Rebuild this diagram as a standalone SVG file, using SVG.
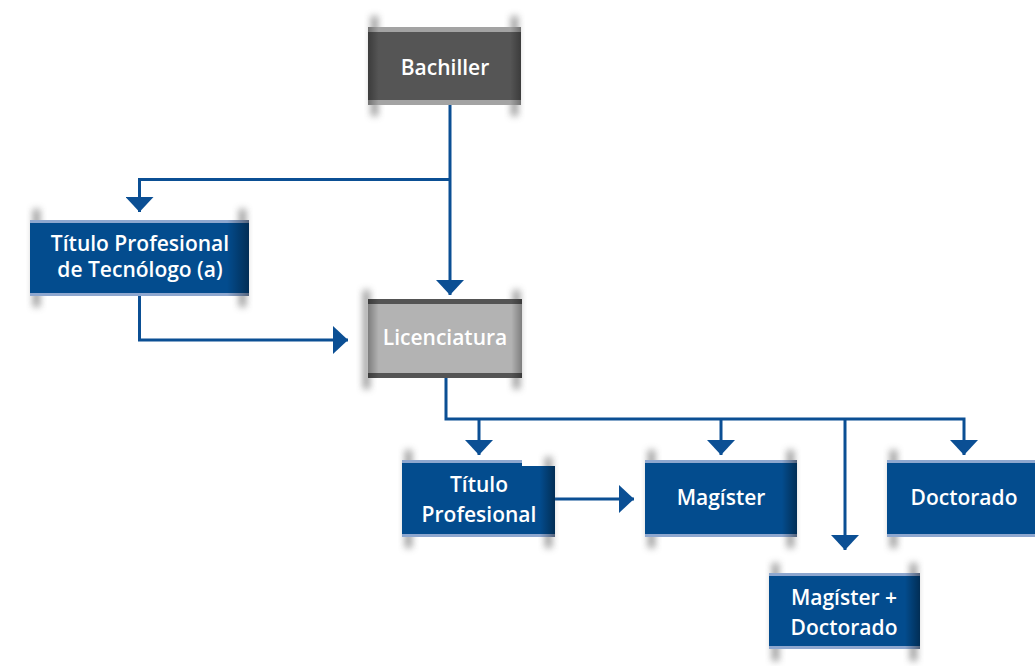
<svg xmlns="http://www.w3.org/2000/svg" width="1035" height="666" viewBox="0 0 1035 666">
<style>
text{font-family:"Open Sans","Noto Sans","DejaVu Sans",sans-serif;font-weight:600;font-size:21px;fill:#ffffff;text-anchor:middle}
.blue{fill:#034c8e}
.bband{fill:#8ea7cf}
.gdark{fill:#555555}
.gband{fill:#a3a3a3}
.glight{fill:#b3b3b3}
.gdband{fill:#545454}
.sh{fill:#7a7a7a;opacity:0.75;filter:url(#blur)}
.edge{fill:url(#edgeR)}
.edge2{fill:url(#edgeLR)}
.conn{fill:none;stroke:#0b4f94;stroke-width:3}
</style>
<defs>
<filter id="blur" x="-100%" y="-20%" width="300%" height="140%"><feGaussianBlur stdDeviation="3.5"/></filter>
<linearGradient id="edgeR" x1="0" y1="0" x2="1" y2="0">
<stop offset="0.9" stop-color="#000" stop-opacity="0"/>
<stop offset="1" stop-color="#000" stop-opacity="0.4"/>
</linearGradient>
<linearGradient id="edgeLR" x1="0" y1="0" x2="1" y2="0">
<stop offset="0" stop-color="#000" stop-opacity="0.3"/>
<stop offset="0.07" stop-color="#000" stop-opacity="0"/>
<stop offset="0.93" stop-color="#000" stop-opacity="0"/>
<stop offset="1" stop-color="#000" stop-opacity="0.3"/>
</linearGradient>
<marker id="arr" markerUnits="userSpaceOnUse" markerWidth="15" markerHeight="28" refX="15" refY="14" orient="auto" viewBox="0 0 15 28">
<path d="M0,0 L15,14 L0,28 z" fill="#0b4f94"/>
</marker>
</defs>

<g id="connectors">
<path class="conn" d="M450,105 V295" marker-end="url(#arr)"/>
<path class="conn" d="M450,179.5 H139.5 V212" marker-end="url(#arr)"/>
<path class="conn" d="M139.5,296 V340 H348" marker-end="url(#arr)"/>
<path class="conn" d="M446,378 V419 H964 V455" marker-end="url(#arr)"/>
<path class="conn" d="M479,419 V455" marker-end="url(#arr)"/>
<path class="conn" d="M721,419 V455" marker-end="url(#arr)"/>
<path class="conn" d="M845,419 V550" marker-end="url(#arr)"/>
<path class="conn" d="M555,499 H634" marker-end="url(#arr)"/>
</g>

<g id="bachiller">
<rect class="sh" x="371" y="16" width="7" height="100"/>
<rect class="sh" x="511" y="16" width="7" height="100"/>
<rect class="gdark" x="368" y="27" width="153" height="78"/>
<rect class="gband" x="368" y="27" width="153" height="5"/>
<rect class="gband" x="368" y="100" width="153" height="5"/>
<rect class="edge2" x="368" y="27" width="153" height="78"/>
<text x="445" y="75">Bachiller</text>
</g>

<g id="tecnologo">
<rect class="sh" x="33" y="209" width="7" height="98"/>
<rect class="sh" x="239" y="209" width="7" height="98"/>
<rect class="blue" x="30" y="220" width="219" height="76"/>
<rect class="bband" x="30" y="220" width="219" height="3"/>
<rect class="bband" x="30" y="293" width="219" height="3"/>
<rect class="edge" x="30" y="220" width="219" height="76"/>
<text x="140" y="251">Título Profesional</text>
<text x="140" y="277">de Tecnólogo (a)</text>
</g>

<g id="licenciatura">
<rect class="sh" x="363" y="290" width="7" height="99"/>
<rect class="sh" x="513" y="290" width="7" height="99"/>
<rect class="glight" x="368" y="299" width="154" height="79"/>
<rect class="gdband" x="368" y="299" width="154" height="5"/>
<rect class="gdband" x="368" y="373" width="154" height="5"/>
<rect class="edge2" x="368" y="299" width="154" height="79"/>
<text x="445" y="345">Licenciatura</text>
</g>

<g id="titulo-profesional">
<rect class="sh" x="405" y="450" width="7" height="98"/>
<rect class="sh" x="545" y="457" width="7" height="91"/>
<path class="blue" d="M402,460 H522 V466 H555 V537 H402 Z"/>
<rect class="bband" x="402" y="460" width="120" height="3"/>
<rect class="bband" x="402" y="534" width="153" height="3"/>
<rect class="edge" x="402" y="466" width="153" height="71"/>
<text x="479" y="492">Título</text>
<text x="479" y="522">Profesional</text>
</g>

<g id="magister">
<rect class="sh" x="648" y="450" width="7" height="98"/>
<rect class="sh" x="787" y="450" width="7" height="98"/>
<rect class="blue" x="645" y="460" width="152" height="77"/>
<rect class="bband" x="645" y="460" width="152" height="3"/>
<rect class="bband" x="645" y="534" width="152" height="3"/>
<rect class="edge" x="645" y="460" width="152" height="77"/>
<text x="721" y="505">Magíster</text>
</g>

<g id="doctorado">
<rect class="sh" x="890" y="450" width="7" height="98"/>
<rect class="blue" x="887" y="460" width="153" height="77"/>
<rect class="bband" x="887" y="460" width="153" height="3"/>
<rect class="bband" x="887" y="534" width="153" height="3"/>
<text x="964" y="505">Doctorado</text>
</g>

<g id="magister-doctorado">
<rect class="sh" x="772" y="563" width="7" height="98"/>
<rect class="sh" x="910" y="563" width="7" height="98"/>
<rect class="blue" x="769" y="573" width="151" height="76"/>
<rect class="bband" x="769" y="573" width="151" height="3"/>
<rect class="bband" x="769" y="646" width="151" height="3"/>
<rect class="edge" x="769" y="573" width="151" height="76"/>
<text x="844" y="605">Magíster +</text>
<text x="844" y="635">Doctorado</text>
</g>
</svg>
